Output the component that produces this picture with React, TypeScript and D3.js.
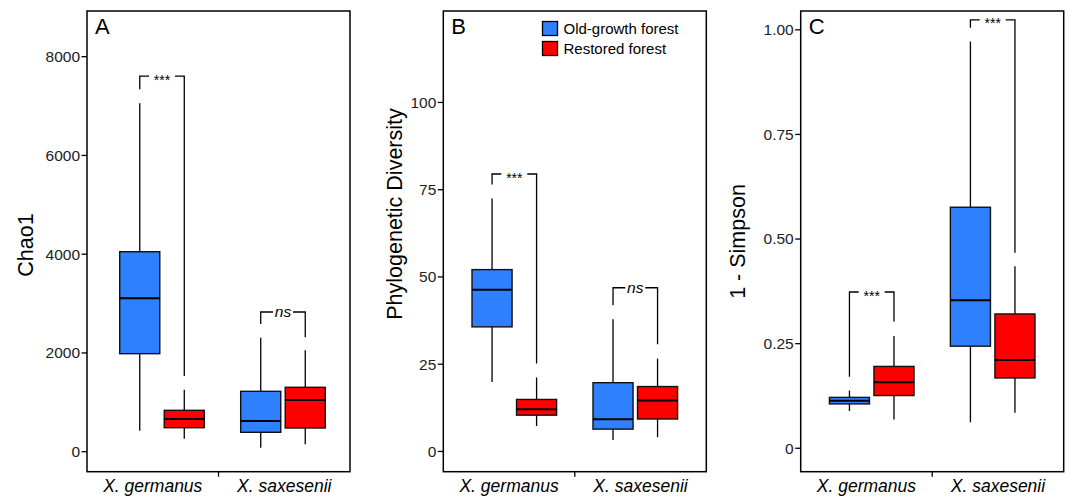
import * as d3 from 'd3';

const categories = ['X. germanus', 'X. saxesenii'];
const forests = ['Old-growth forest', 'Restored forest'];
const forestColors = ['#2F80FF', '#FF0000'];

// box stats: [lower whisker, q1, median, q3, upper whisker]
// order: germanus old, germanus restored, saxesenii old, saxesenii restored
const chao1Stats = [
  [425, 1985, 3106, 4050, 7055],
  [263, 486, 662, 838, 1256],
  [81, 393, 622, 1223, 2309],
  [150, 480, 1047, 1304, 2053],
];
const pdStats = [
  [19.9, 35.7, 46.3, 52.1, 72.5],
  [7.3, 10.4, 12.1, 14.9, 21.2],
  [3.3, 6.4, 9.2, 19.7, 37.9],
  [4.1, 9.3, 14.6, 18.6, 26.6],
];
const simpsonStats = [
  [0.089, 0.106, 0.1135, 0.1216, 0.138],
  [0.069, 0.126, 0.158, 0.1956, 0.2685],
  [0.062, 0.244, 0.354, 0.576, 0.972],
  [0.085, 0.168, 0.211, 0.321, 0.435],
];

// significance: [label, bracket level, left leg end, right leg end] per category
const chao1Signif = [['***', 7608, 7338, 1533], ['ns', 2829, 2586, 2317]];
const pdSignif = [['***', 79.5, 76.5, 25.2], ['ns', 46.9, 41.9, 30.7]];
const simpsonSignif = [['***', 0.3735, 0.171, 0.303], ['***', 1.024, 1.005, 0.467]];

const chao1Ticks = [0, 2000, 4000, 6000, 8000];
const pdTicks = [0, 25, 50, 75, 100];
const simpsonTicks = [0, 0.25, 0.5, 0.75, 1];
const simpsonTickLabels = ['0', '0.25', '0.50', '0.75', '1.00'];

const FONT = 'Arial, "Liberation Sans", Helvetica, sans-serif';
const W = 1072;
const H = 497;
const top = 11;
const bottom = 471.7;
const panelW = 263;

const panels = [
  { letter: 'A', left: 87, shift: 4, title: 'Chao1', titleX: 25, titleY: 245, domain: [-405, 8925], ticks: chao1Ticks, tickLabels: chao1Ticks.map(String), stats: chao1Stats, signif: chao1Signif },
  { letter: 'B', left: 443.3, shift: 0, title: 'Phylogenetic Diversity', titleX: 394, titleY: 214, domain: [-5.8, 126.2], ticks: pdTicks, tickLabels: pdTicks.map(String), stats: pdStats, signif: pdSignif, legend: true },
  { letter: 'C', left: 800.7, shift: 0, title: '1 - Simpson', titleX: 737, titleY: 241.5, domain: [-0.056, 1.045], ticks: simpsonTicks, tickLabels: simpsonTickLabels, stats: simpsonStats, signif: simpsonSignif },
];

function Panel({ p }) {
  const y = d3.scaleLinear().domain(p.domain).range([bottom, top]);
  const xGroup = d3.scalePoint().domain(categories).range([p.left + p.shift, p.left + p.shift + panelW]).padding(0.587);
  const xLabel = d3.scalePoint().domain(categories).range([p.left, p.left + panelW]).padding(0.5);
  const xDodge = d3.scaleBand().domain(forests).range([-42.3, 42.3]).paddingInner(0.1);
  const bw = xDodge.bandwidth();

  const boxes = p.stats.map((s, i) => {
    const cat = categories[Math.floor(i / 2)];
    const f = forests[i % 2];
    const cx = xGroup(cat) + xDodge(f) + bw / 2;
    return { s, cx, color: forestColors[i % 2] };
  });

  return (
    <g>
      {/* y axis ticks */}
      {p.ticks.map((t, i) => (
        <g key={t}>
          <line x1={p.left - 5.5} x2={p.left} y1={y(t)} y2={y(t)} stroke="#000" strokeWidth={1.3} />
          <text x={p.left - 7} y={y(t)} dy="0.35em" textAnchor="end" fontSize={15.5} fill="#222">{p.tickLabels[i]}</text>
        </g>
      ))}
      <text transform={`translate(${p.titleX},${p.titleY}) rotate(-90)`} textAnchor="middle" dy="0.35em" fontSize={21.5} fill="#000">{p.title}</text>

      {/* x axis */}
      <line x1={p.left + panelW / 2} x2={p.left + panelW / 2} y1={bottom} y2={bottom + 5} stroke="#000" strokeWidth={1.3} />
      {categories.map(c => (
        <text key={c} x={xLabel(c)} y={492} textAnchor="middle" fontSize={17.5} fontStyle="italic" fill="#000">{c}</text>
      ))}

      {/* boxes */}
      {boxes.map((b, i) => (
        <g key={i}>
          <line x1={b.cx} x2={b.cx} y1={y(b.s[0])} y2={y(b.s[4])} stroke="#000" strokeWidth={1.3} />
          <rect x={b.cx - bw / 2} width={bw} y={y(b.s[3])} height={y(b.s[1]) - y(b.s[3])} fill={b.color} stroke="#111" strokeWidth={1.4} />
          <line x1={b.cx - bw / 2} x2={b.cx + bw / 2} y1={y(b.s[2])} y2={y(b.s[2])} stroke="#000" strokeWidth={2} />
        </g>
      ))}

      {/* significance brackets */}
      {p.signif.map((sg, ci) => {
        const xl = boxes[ci * 2].cx;
        const xr = boxes[ci * 2 + 1].cx;
        const yl = y(sg[1]);
        const isStar = sg[0] === '***';
        const gap = isStar ? 13 : 10;
        const mid = (xl + xr) / 2;
        return (
          <g key={ci} fill="none" stroke="#000" strokeWidth={1.3}>
            <path d={`M${xl},${y(sg[2])}V${yl}H${mid - gap}`} />
            <path d={`M${mid + gap},${yl}H${xr}V${y(sg[3])}`} />
            <text x={mid} y={yl} dy={isStar ? '0.62em' : '0.32em'} textAnchor="middle" stroke="none" fill="#000"
              fontSize={isStar ? 14 : 15.5} fontStyle={isStar ? 'normal' : 'italic'}>{sg[0]}</text>
          </g>
        );
      })}

      {/* frame */}
      <rect x={p.left} y={top} width={panelW} height={bottom - top} fill="none" stroke="#000" strokeWidth={1.5} />
      <text x={p.left + 8} y={34} fontSize={22} fill="#000">{p.letter}</text>

      {p.legend && forests.map((f, i) => (
        <g key={f}>
          <rect x={542.5} y={21.5 + i * 20} width={15} height={14} fill={forestColors[i]} stroke="#000" strokeWidth={1.3} />
          <text x={563.5} y={28.5 + i * 20} dy="0.35em" fontSize={15} fill="#000">{f}</text>
        </g>
      ))}
    </g>
  );
}

export default function App() {
  return (
    <svg width={W} height={H} style={{ position: 'absolute', left: 0, top: 0, background: '#fff' }} fontFamily={FONT}>
      <rect width={W} height={H} fill="#fff" />
      {panels.map(p => <Panel key={p.letter} p={p} />)}
    </svg>
  );
}
